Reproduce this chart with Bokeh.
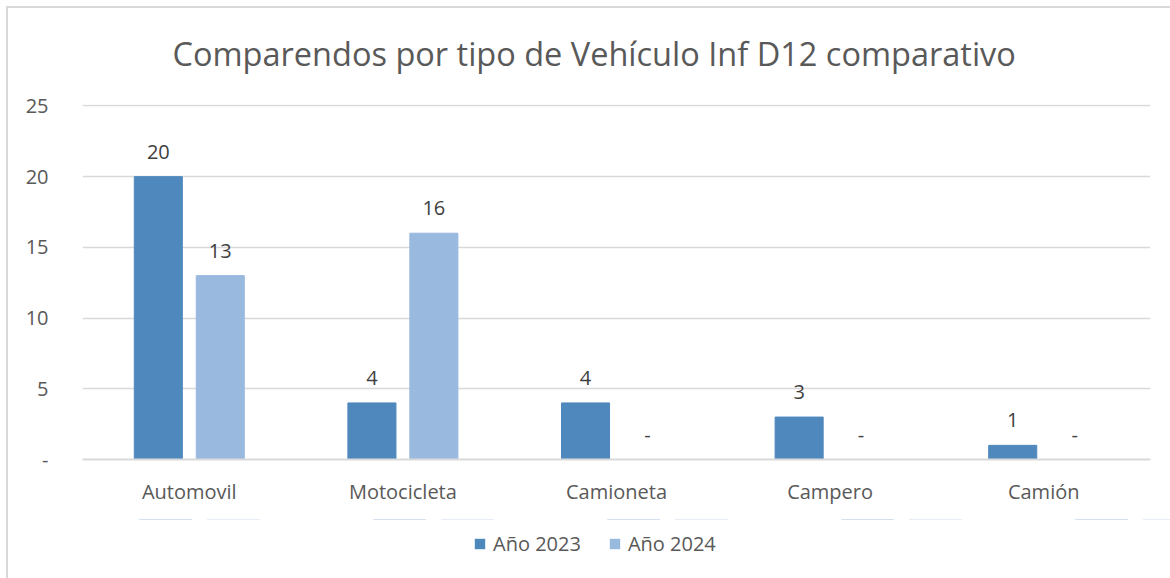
from bokeh.plotting import figure
from bokeh.layouts import column
from bokeh.models import (ColumnDataSource, FactorRange, Range1d, LabelSet, Legend, LegendItem,
                          FixedTicker)
from bokeh.core.properties import value
from bokeh.transform import dodge
from bokeh.embed import file_html
from bokeh.resources import INLINE

categories = ["Automovil", "Motocicleta", "Camioneta", "Campero", "Camión"]
year_2023 = [20, 4, 4, 3, 1]
year_2024 = [13, 16, 0, 0, 0]
series_names = ["Año 2023", "Año 2024"]
y_ticks = [0, 5, 10, 15, 20, 25]

FONT = "Open Sans"
C1 = "#4F88BD"
C2 = "#9AB9DF"
TXT = "#595959"

src = ColumnDataSource(dict(
    cat=categories,
    y1=year_2023,
    y2=year_2024,
    t1=[str(v) if v else "-" for v in year_2023],
    t2=[str(v) if v else "-" for v in year_2024],
))

p = figure(frame_width=1068, frame_height=355, x_range=FactorRange(*categories, range_padding=0),
           y_range=Range1d(0, 25.1), output_backend="svg", toolbar_location=None,
           min_border_left=82, min_border_right=20, min_border_top=104, min_border_bottom=60)
p.outline_line_color = None

p.title.text = "Comparendos por tipo de Vehículo Inf D12 comparativo"
p.title.align = "left"
p.title.offset = 90
p.title.text_font = FONT
p.title.text_font_style = "normal"
p.title.text_font_size = "32.5px"
p.title.text_color = TXT
p.title.standoff = 57

w = 0.225
p.vbar(x=dodge("cat", -0.145, range=p.x_range), top="y1", width=w, source=src,
       fill_color=C1, line_color=C1)
p.vbar(x=dodge("cat", 0.145, range=p.x_range), top="y2", width=w, source=src,
       fill_color=C2, line_color=C2)

for xo, col, ycol in [(-0.145, "t1", "y1"), (0.145, "t2", "y2")]:
    p.add_layout(LabelSet(x=dodge("cat", xo, range=p.x_range), y=ycol, text=col, source=src,
                          text_align="center", text_baseline="middle", y_offset=25,
                          text_font=value(FONT), text_font_size=value("20px"),
                          text_color="#404040"))

p.yaxis.ticker = FixedTicker(ticks=y_ticks)
p.yaxis.major_label_overrides = {0: "-"}
p.yaxis.axis_line_color = None
p.yaxis.major_tick_line_color = None
p.yaxis.minor_tick_line_color = None
p.yaxis.major_label_standoff = 28
p.yaxis.major_label_text_font = FONT
p.yaxis.major_label_text_font_size = "20px"
p.yaxis.major_label_text_color = TXT

p.xaxis.axis_line_color = "#d9d9d9"
p.xaxis.axis_line_width = 2
p.xaxis.major_tick_line_color = None
p.xaxis.minor_tick_line_color = None
p.xaxis.major_label_standoff = 12
p.xaxis.major_label_text_font = FONT
p.xaxis.major_label_text_font_size = "20px"
p.xaxis.major_label_text_color = TXT

p.xgrid.grid_line_color = None
p.ygrid.grid_line_color = "#d9d9d9"
p.ygrid.grid_line_width = 1.5

# legend strip below the chart (its series renderers are scrolled far out of view)
lp = figure(frame_width=1170, frame_height=59, x_range=p.x_range, y_range=Range1d(-1000, -999),
            output_backend="svg", toolbar_location=None, x_axis_type=None, y_axis_type=None,
            min_border=0)
lp.outline_line_color = None
lp.xgrid.grid_line_color = None
lp.ygrid.grid_line_color = None
l1 = lp.vbar(x=dodge("cat", -0.145, range=p.x_range), top="y1", width=w, source=src,
             fill_color=C1, line_color=None)
l2 = lp.vbar(x=dodge("cat", 0.145, range=p.x_range), top="y2", width=w, source=src,
             fill_color=C2, line_color=None)
legend = Legend(items=[LegendItem(label=series_names[0], renderers=[l1]),
                       LegendItem(label=series_names[1], renderers=[l2])],
                orientation="horizontal", location=(473, 21),
                glyph_width=13, glyph_height=13, spacing=27, label_standoff=7,
                label_text_font=FONT, label_text_font_size="20px", label_text_color=TXT,
                border_line_color=None, background_fill_alpha=0, margin=0, padding=0)
lp.add_layout(legend, "center")

border_css = (":host::after { content: ''; position: absolute; top: 6px; left: 6px; "
              "right: 0; bottom: 0; border-top: 2px solid #d9d9d9; "
              "border-left: 2px solid #d9d9d9; pointer-events: none; z-index: 10; }")
layout = column(p, lp, spacing=0, stylesheets=[border_css])

open("out.html", "w").write(file_html(layout, INLINE))
